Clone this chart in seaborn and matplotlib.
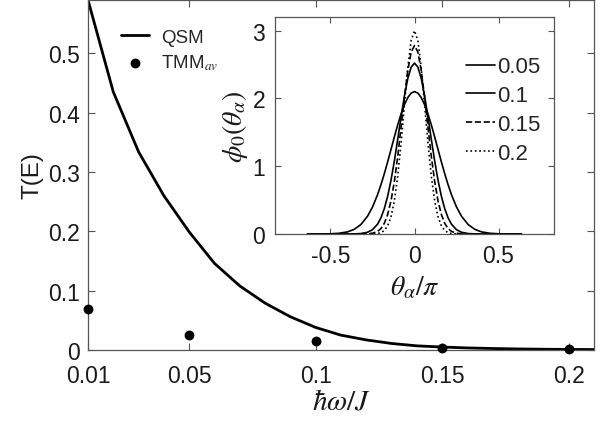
import seaborn as sns
import matplotlib.pyplot as plt
import pandas as pd

# main curve: QSM transmission vs hbar*omega/J
hw = [0.01, 0.02, 0.03, 0.04, 0.05, 0.06, 0.07, 0.08, 0.09, 0.10, 0.11,
      0.12, 0.13, 0.14, 0.15, 0.16, 0.17, 0.18, 0.19, 0.20, 0.21]
qsm = [0.59, 0.435, 0.334, 0.26, 0.199, 0.146, 0.108, 0.079, 0.056, 0.038, 0.025,
       0.017, 0.011, 0.007, 0.005, 0.0035, 0.0025, 0.0018, 0.0013, 0.001, 0.0008]

# TMM averaged points
hw_tmm = [0.01, 0.05, 0.1, 0.15, 0.2]
tmm = [0.069, 0.025, 0.015, 0.003, 0.001]

# inset: phi_0(theta_alpha) for several hbar*omega/J
theta = [-0.6366, -0.50, -0.45, -0.40, -0.36, -0.32, -0.28, -0.25, -0.22, -0.20, -0.18,
         -0.16, -0.14, -0.12, -0.10, -0.08, -0.06, -0.04, -0.02, 0.0,
         0.02, 0.04, 0.06, 0.08, 0.10, 0.12, 0.14, 0.16, 0.18, 0.20,
         0.22, 0.25, 0.28, 0.32, 0.36, 0.40, 0.45, 0.50, 0.6366]
phi_005 = [0.0, 0.003, 0.010, 0.030, 0.067, 0.137, 0.260, 0.397, 0.579, 0.724, 0.886,
           1.062, 1.246, 1.431, 1.609, 1.771, 1.908, 2.012, 2.078, 2.10,
           2.078, 2.012, 1.908, 1.771, 1.609, 1.431, 1.246, 1.062, 0.886, 0.724,
           0.579, 0.397, 0.260, 0.137, 0.067, 0.030, 0.010, 0.003, 0.0]
phi_01 = [0.0, 0.0, 0.0, 0.0, 0.001, 0.006, 0.025, 0.063, 0.144, 0.237, 0.372,
          0.555, 0.792, 1.076, 1.396, 1.727, 2.037, 2.293, 2.461, 2.52,
          2.461, 2.293, 2.037, 1.727, 1.396, 1.076, 0.792, 0.555, 0.372, 0.237,
          0.144, 0.063, 0.025, 0.006, 0.001, 0.0, 0.0, 0.0, 0.0]
phi_015 = [0.0, 0.0, 0.0, 0.0, 0.0, 0.0, 0.003, 0.011, 0.038, 0.079, 0.156,
           0.286, 0.487, 0.773, 1.143, 1.574, 2.019, 2.411, 2.683, 2.78,
           2.683, 2.411, 2.019, 1.574, 1.143, 0.773, 0.487, 0.286, 0.156, 0.079,
           0.038, 0.011, 0.003, 0.0, 0.0, 0.0, 0.0, 0.0, 0.0]
phi_02 = [0.0, 0.0, 0.0, 0.0, 0.0, 0.0, 0.0, 0.001, 0.007, 0.019, 0.051,
          0.119, 0.254, 0.489, 0.851, 1.340, 1.906, 2.452, 2.853, 3.0,
          2.853, 2.452, 1.906, 1.340, 0.851, 0.489, 0.254, 0.119, 0.051, 0.019,
          0.007, 0.001, 0.0, 0.0, 0.0, 0.0, 0.0, 0.0, 0.0]

inset_labels = ["0.05", "0.1", "0.15", "0.2"]
inset_styles = ["-", "-", "--", ":"]

sns.set_theme(style="ticks")
plt.rcParams['font.family'] = ['Liberation Sans', 'DejaVu Sans']
plt.rcParams['mathtext.fontset'] = 'stix'
plt.rcParams['axes.edgecolor'] = '#555555'
plt.rcParams['axes.linewidth'] = 0.9
plt.rcParams['xtick.color'] = '#555555'
plt.rcParams['ytick.color'] = '#555555'
plt.rcParams['xtick.labelcolor'] = '#1a1a1a'
plt.rcParams['ytick.labelcolor'] = '#1a1a1a'

fig = plt.figure(figsize=(6.09, 4.31), dpi=100)
ax = fig.add_axes([0.1445, 0.1856, 0.8309, 0.8121])

dfMain = pd.DataFrame({"hw": hw, "T": qsm})
dfTmm = pd.DataFrame({"hw": hw_tmm, "T": tmm})
sns.lineplot(data=dfMain, x="hw", y="T", color="black", linewidth=2.0, ax=ax, label="QSM")
sns.scatterplot(data=dfTmm, x="hw", y="T", color="black", s=50, edgecolor="black",
                linewidth=0, ax=ax, label="TMM$_{av}$", zorder=5, clip_on=False)

ax.set_xlim(0.01, 0.21)
ax.set_ylim(0, 0.59)
ax.set_xticks([0.01, 0.05, 0.1, 0.15, 0.2])
ax.set_xticklabels(["0.01", "0.05", "0.1", "0.15", "0.2"])
ax.set_yticks([0, 0.1, 0.2, 0.3, 0.4, 0.5])
ax.set_yticklabels(["0", "0.1", "0.2", "0.3", "0.4", "0.5"])
ax.tick_params(direction="in", top=True, right=True, length=5, width=0.8,
               labelsize=16.5)
ax.tick_params(axis="x", pad=10)
ax.tick_params(axis="y", pad=6)
ax.set_xlabel(r"$\hbar\omega/J$", fontsize=21, labelpad=0, color="#1a1a1a")
ax.set_ylabel("T(E)", fontsize=17.5, labelpad=3, color="#1a1a1a")
ax.legend(loc="upper left", bbox_to_anchor=(0.04, 0.955), frameon=False, fontsize=13.5,
          handlelength=1.5, handletextpad=0.6, labelspacing=0.35, borderaxespad=0.3)

# inset
axin = fig.add_axes([0.4516, 0.4548, 0.4581, 0.5034])
inset_data = [phi_005, phi_01, phi_015, phi_02]
for vals, lab, ls in zip(inset_data, inset_labels, inset_styles):
    dfIn = pd.DataFrame({"theta": theta, "phi": vals})
    sns.lineplot(data=dfIn, x="theta", y="phi", color="black", linewidth=1.2,
                 linestyle=ls, ax=axin, label=lab)

axin.set_xlim(-0.83, 0.83)
axin.set_ylim(0, 3.2)
axin.set_xticks([-0.5, 0, 0.5])
axin.set_xticklabels(["-0.5", "0", "0.5"])
axin.set_yticks([0, 1, 2, 3])
axin.set_yticklabels(["0", "1", "2", "3"])
axin.tick_params(direction="in", top=True, right=True, length=4, width=0.8,
                 labelsize=16.5, pad=7)
axin.set_xlabel(r"$\theta_{\alpha}/\pi$", fontsize=20, labelpad=5, color="#1a1a1a")
axin.set_ylabel(r"$\phi_0(\theta_{\alpha})$", fontsize=20, labelpad=2, color="#1a1a1a")
axin.legend(loc="upper right", bbox_to_anchor=(1.0, 0.88), frameon=False, fontsize=16,
            handlelength=1.3, handletextpad=0.1, labelspacing=0.35, borderaxespad=0.2)

fig.savefig("out.png", dpi=100)
